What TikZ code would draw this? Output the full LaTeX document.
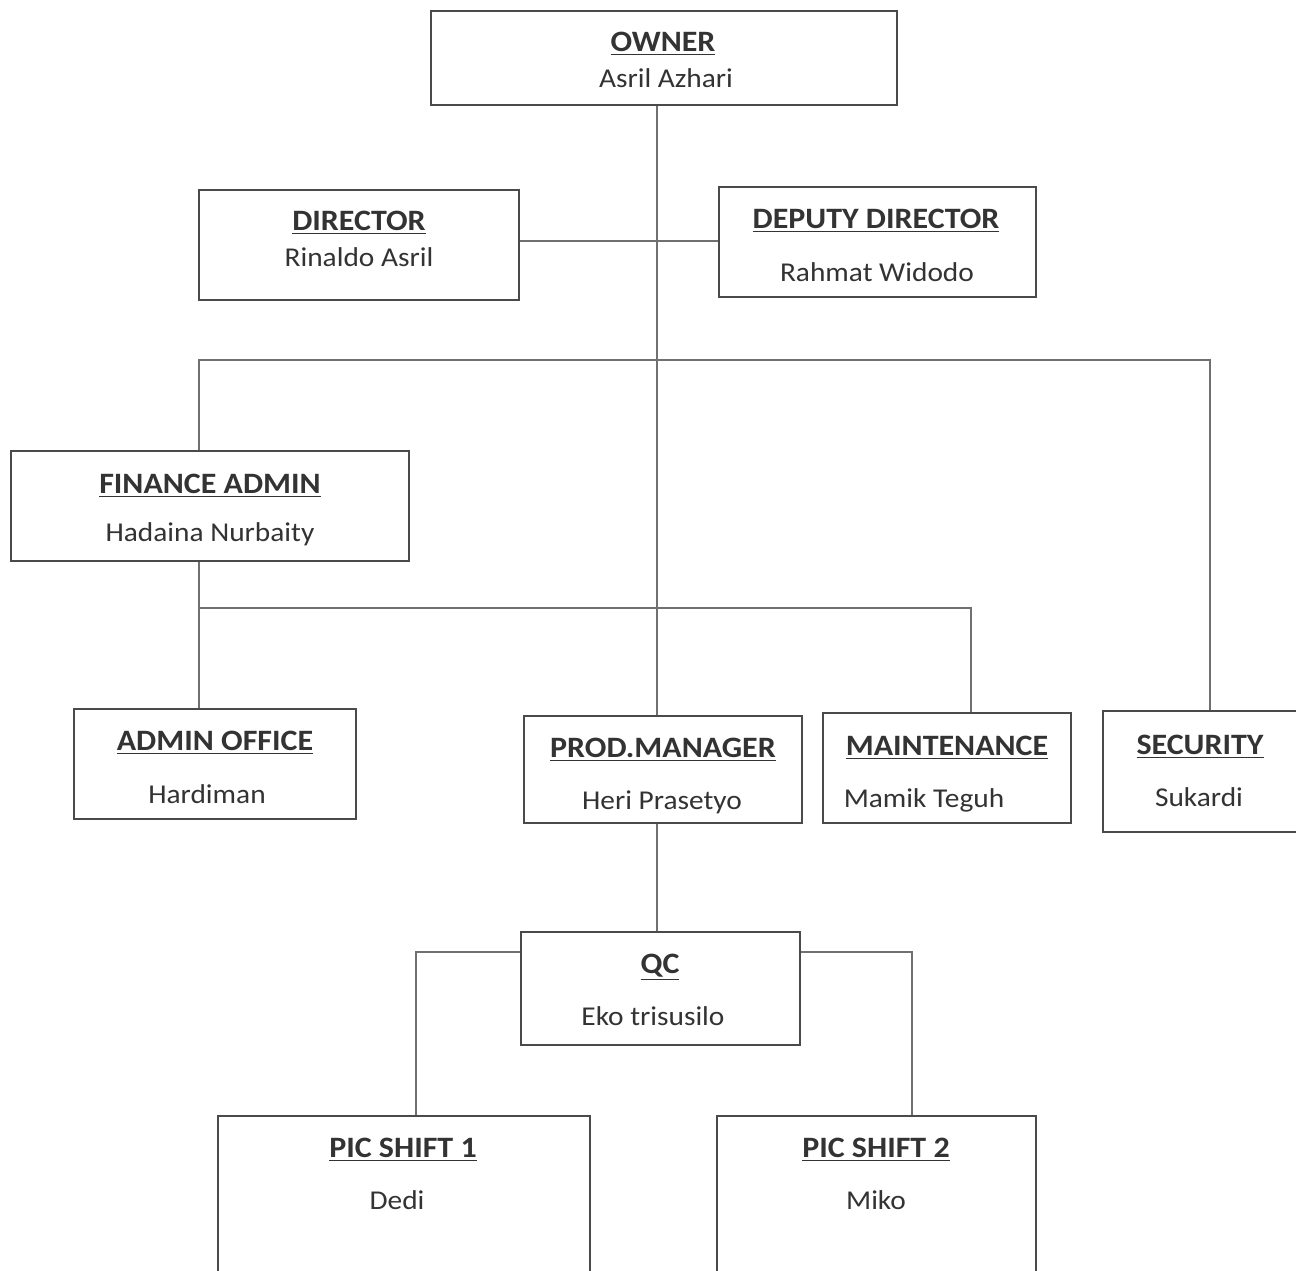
\documentclass[tikz,border=0pt]{standalone}
\usepackage{fontspec}
\setmainfont[FakeStretch=1.08]{Carlito}
\usetikzlibrary{positioning,fit}
\definecolor{boxline}{HTML}{4A4A4A}
\definecolor{connline}{HTML}{707070}
\definecolor{txt}{HTML}{333333}
\tikzset{
  box/.style={draw=boxline, line width=1.1pt, inner sep=0pt, fill=none},
  conn/.style={draw=connline, line width=0.75pt},
  ttl/.style={anchor=base, inner sep=0pt, text=txt, font=\fontsize{14.8}{17}\selectfont\bfseries},
  nm/.style={anchor=base, inner sep=0pt, text=txt, font=\fontsize{13.6}{16}\selectfont},
}
\begin{document}
\begin{tikzpicture}[x=0.5pt, y=-0.5pt]
\useasboundingbox (0,0) rectangle (1296,1270);
\clip (0,0) rectangle (1296,1270);
\fill[white] (0,0) rectangle (1296,1270);

% boxes
\node[box, fit={(431,11) (897,105)}] (owner) {};
\node[box, fit={(199,190) (519,300)}] (dir) {};
\node[box, fit={(719,187) (1036,297)}] (dep) {};
\node[box, fit={(11,451) (409,561)}] (fin) {};
\node[box, fit={(74,709) (356,819)}] (adm) {};
\node[box, fit={(524,716) (802,823)}] (prod) {};
\node[box, fit={(823,713) (1071,823)}] (mnt) {};
\node[box, fit={(1103,711) (1302,832)}] (sec) {};
\node[box, fit={(521,932) (800,1045)}] (qc) {};
\node[box, fit={(218,1116) (590,1290)}] (p1) {};
\node[box, fit={(717,1116) (1036,1290)}] (p2) {};

% texts
\node[ttl] (ownerT) at (663,51) {\underline{OWNER}};
\node[nm]  (ownerN) at (666,87) {Asril Azhari};
\node[ttl] (dirT) at (359,230) {\underline{DIRECTOR}};
\node[nm]  (dirN) at (359,266) {Rinaldo Asril};
\node[ttl] (depT) at (876,228) {\underline{DEPUTY DIRECTOR}};
\node[nm]  (depN) at (877,281) {Rahmat Widodo};
\node[ttl] (finT) at (210,493) {\underline{FINANCE ADMIN}};
\node[nm]  (finN) at (210,541) {Hadaina Nurbaity};
\node[ttl] (admT) at (215,750) {\underline{ADMIN OFFICE}};
\node[nm]  (admN) at (207,803) {Hardiman};
\node[ttl] (prodT) at (663,757) {\underline{PROD.MANAGER}};
\node[nm]  (prodN) at (662,809) {Heri Prasetyo};
\node[ttl] (mntT) at (947,755) {\underline{MAINTENANCE}};
\node[nm]  (mntN) at (924,807) {Mamik Teguh};
\node[ttl] (secT) at (1200,754) {\underline{SECURITY}};
\node[nm]  (secN) at (1199,806) {Sukardi};
\node[ttl] (qcT) at (660,973) {\underline{QC}};
\node[nm]  (qcN) at (653,1025) {Eko trisusilo};
\node[ttl] (p1T) at (403,1157) {\underline{PIC SHIFT 1}};
\node[nm]  (p1N) at (397,1209) {Dedi};
\node[ttl] (p2T) at (876,1157) {\underline{PIC SHIFT 2}};
\node[nm]  (p2N) at (876,1209) {Miko};

% connector coordinates
\coordinate (spine) at (657,0);
\coordinate (busL) at (199,360);
\coordinate (busR) at (1210,360);
\coordinate (fbL) at (199,608);
\coordinate (fbR) at (971,608);
\coordinate (qL) at (416,952);
\coordinate (qR) at (912,952);
\coordinate (dd) at (0,241);

% connectors
\draw[conn] (owner.south -| spine) -- (prod.north -| spine);
\draw[conn] (dir.east |- dd) -- (dep.west |- dd);
\draw[conn] (fin.north -| busL) -- (busL) -- (busR) -- (sec.north -| busR);
\draw[conn] (fin.south -| fbL) -- (adm.north -| fbL);
\draw[conn] (fbL) -- (fbR) -- (mnt.north -| fbR);
\draw[conn] (prod.south -| spine) -- (qc.north -| spine);
\draw[conn] (qc.west |- qL) -- (qL) -- (p1.north -| qL);
\draw[conn] (qc.east |- qR) -- (qR) -- (p2.north -| qR);
\end{tikzpicture}
\end{document}
